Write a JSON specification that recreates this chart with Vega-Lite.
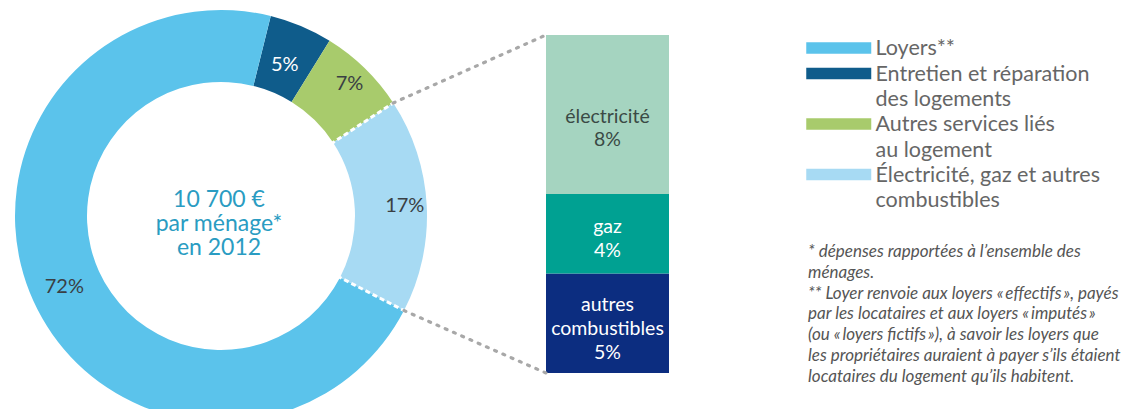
{
  "$schema": "https://vega.github.io/schema/vega-lite/v6.json",
  "width": 1125,
  "height": 409,
  "autosize": {"type": "none"},
  "padding": 0,
  "background": "white",
  "config": {
    "view": {"stroke": null},
    "font": "Lato",
    "style": {"guide-label": {"lineHeight": 25.5}}
  },
  "datasets": {
    "postes": [
      {"poste": "Entretien et réparation des logements", "part": 5, "ordre": 1, "etiquette": "5%"},
      {"poste": "Autres services liés au logement", "part": 7, "ordre": 2, "etiquette": "7%"},
      {"poste": "Électricité, gaz et autres combustibles", "part": 17, "ordre": 3, "etiquette": "17%"},
      {"poste": "Loyers", "part": 72, "ordre": 4, "etiquette": "72%"}
    ],
    "energie": [
      {"composante": "autres combustibles", "part": 5, "ordre": 1, "etiquette": "autres\ncombustibles\n5%"},
      {"composante": "gaz", "part": 4, "ordre": 2, "etiquette": "gaz\n4%"},
      {"composante": "électricité", "part": 8, "ordre": 3, "etiquette": "électricité\n8%"}
    ],
    "centre": [{"texte": "10 700 €\npar ménage*\nen 2012"}],
    "notes": [{"texte": "* dépenses rapportées à l’ensemble des\nménages.\n** Loyer renvoie aux loyers «\u2009effectifs\u2009», payés\npar les locataires et aux loyers «\u2009imputés\u2009»\n(ou «\u2009loyers fictifs\u2009»), à savoir les loyers que\nles propriétaires auraient à payer s’ils étaient\nlocataires du logement qu’ils habitent."}],
    "connecteurs": [
      {"x": 19.66, "y": 13.58, "x2": 27.3, "y2": 17},
      {"x": 20.2, "y": 3.14, "x2": 27.3, "y2": 0}
    ]
  },
  "layer": [
    {
      "data": {"name": "postes"},
      "mark": {"type": "arc", "outerRadius": 206, "innerRadius": 134, "clip": true},
      "encoding": {
        "x": {"datum": 11.05, "type": "quantitative", "scale": {"domain": [0, 56.25], "nice": false, "zero": false}, "axis": null},
        "y": {"datum": 7.9, "type": "quantitative", "scale": {"domain": [-1.81, 18.76], "nice": false, "zero": false}, "axis": null},
        "theta": {"field": "part", "type": "quantitative", "stack": true, "scale": {"range": [0.244, 6.527]}},
        "order": {"field": "ordre", "type": "quantitative"},
        "color": {
          "field": "poste",
          "type": "nominal",
          "scale": {
            "domain": ["Loyers", "Entretien et réparation des logements", "Autres services liés au logement", "Électricité, gaz et autres combustibles"],
            "range": ["#5BC3EB", "#0F5C8B", "#A8CB6C", "#A7DAF3"]
          },
          "legend": {
            "orient": "none",
            "legendX": 806,
            "legendY": 38.5,
            "title": null,
            "padding": 0,
            "symbolType": "M-6.5,-1.4H6.5V0.9H-6.5Z",
            "symbolSize": 100,
            "symbolOffset": 22,
            "symbolStrokeWidth": 0,
            "symbolOpacity": 1,
            "labelFont": "Lato",
            "labelFontSize": 21.5,
            "labelColor": "#666666",
            "labelBaseline": "middle",
            "labelOffset": 26,
            "labelLimit": 0,
            "rowPadding": 2.5,
            "labelExpr": "datum.label == 'Loyers' ? 'Loyers**' : datum.label == 'Entretien et réparation des logements' ? ['Entretien et réparation', 'des logements'] : datum.label == 'Autres services liés au logement' ? ['Autres services liés', 'au logement'] : ['Électricité, gaz et autres', 'combustibles']"
          }
        }
      }
    },
    {
      "data": {"name": "postes"},
      "mark": {"type": "arc", "outerRadius": 210, "innerRadius": 130, "clip": true, "fillOpacity": 0, "stroke": "white", "strokeWidth": 3, "strokeDash": [5, 3]},
      "encoding": {
        "x": {"datum": 11.05, "type": "quantitative"},
        "y": {"datum": 7.9, "type": "quantitative"},
        "theta": {"field": "part", "type": "quantitative", "stack": true},
        "order": {"field": "ordre", "type": "quantitative"},
        "detail": {"field": "poste"},
        "strokeOpacity": {"condition": {"test": "datum.poste === 'Électricité, gaz et autres combustibles'", "value": 1}, "value": 0}
      }
    },
    {
      "data": {"name": "postes"},
      "mark": {"type": "text", "radius": 164, "fontSize": 20, "font": "Lato", "align": "center", "baseline": "middle"},
      "encoding": {
        "x": {"datum": 11.05, "type": "quantitative"},
        "y": {"datum": 7.9, "type": "quantitative"},
        "theta": {"field": "part", "type": "quantitative", "stack": true},
        "order": {"field": "ordre", "type": "quantitative"},
        "detail": {"field": "poste"},
        "text": {"field": "etiquette"},
        "color": {"value": "#FFFFFF"},
        "opacity": {"condition": {"test": "datum.poste === 'Entretien et réparation des logements'", "value": 1}, "value": 0}
      }
    },
    {
      "data": {"name": "postes"},
      "mark": {"type": "text", "radius": 184, "fontSize": 20, "font": "Lato", "align": "center", "baseline": "middle"},
      "encoding": {
        "x": {"datum": 11.05, "type": "quantitative"},
        "y": {"datum": 7.9, "type": "quantitative"},
        "theta": {"field": "part", "type": "quantitative", "stack": true},
        "order": {"field": "ordre", "type": "quantitative"},
        "detail": {"field": "poste"},
        "text": {"field": "etiquette"},
        "color": {"value": "#3A3F44"},
        "opacity": {"condition": {"test": "datum.poste === 'Autres services liés au logement' || datum.poste === 'Électricité, gaz et autres combustibles'", "value": 1}, "value": 0}
      }
    },
    {
      "data": {"name": "postes"},
      "mark": {"type": "text", "radius": 172, "fontSize": 20, "font": "Lato", "align": "center", "baseline": "middle"},
      "encoding": {
        "x": {"datum": 11.05, "type": "quantitative"},
        "y": {"datum": 7.9, "type": "quantitative"},
        "theta": {"field": "part", "type": "quantitative", "stack": true},
        "order": {"field": "ordre", "type": "quantitative"},
        "detail": {"field": "poste"},
        "text": {"field": "etiquette"},
        "color": {"value": "#3A3F44"},
        "opacity": {"condition": {"test": "datum.poste === 'Loyers'", "value": 1}, "value": 0}
      }
    },
    {
      "data": {"name": "centre"},
      "mark": {"type": "text", "fontSize": 23, "lineHeight": 24, "lineBreak": "\n", "font": "Lato", "align": "center", "baseline": "middle", "color": "#2A9CC2"},
      "encoding": {
        "x": {"datum": 10.95, "type": "quantitative"},
        "y": {"datum": 8.72, "type": "quantitative"},
        "text": {"field": "texte"}
      }
    },
    {
      "data": {"name": "energie"},
      "transform": [
        {"stack": "part", "groupby": [], "sort": [{"field": "ordre", "order": "ascending"}], "as": ["y0", "y1"]}
      ],
      "mark": {"type": "rect"},
      "encoding": {
        "x": {"datum": 27.3, "type": "quantitative"},
        "x2": {"datum": 33.45},
        "y": {"field": "y0", "type": "quantitative"},
        "y2": {"field": "y1"},
        "color": {
          "field": "composante",
          "type": "nominal",
          "scale": {"domain": ["électricité", "gaz", "autres combustibles"], "range": ["#A5D4C0", "#00A192", "#0C2D80"]},
          "legend": null
        }
      }
    },
    {
      "data": {"name": "energie"},
      "transform": [
        {"stack": "part", "groupby": [], "sort": [{"field": "ordre", "order": "ascending"}], "as": ["y0", "y1"]},
        {"fold": ["y0", "y1"], "as": ["borne", "valeur"]},
        {"aggregate": [{"op": "mean", "field": "valeur", "as": "milieu"}], "groupby": ["composante", "etiquette"]},
        {"filter": "datum.composante === 'électricité'"}
      ],
      "mark": {"type": "text", "fontSize": 19.5, "lineHeight": 23.5, "lineBreak": "\n", "font": "Lato", "align": "center", "baseline": "middle", "dy": 2, "color": "#3A4A45"},
      "encoding": {
        "x": {"datum": 30.375, "type": "quantitative"},
        "y": {"field": "milieu", "type": "quantitative"},
        "text": {"field": "etiquette"}
      }
    },
    {
      "data": {"name": "energie"},
      "transform": [
        {"stack": "part", "groupby": [], "sort": [{"field": "ordre", "order": "ascending"}], "as": ["y0", "y1"]},
        {"fold": ["y0", "y1"], "as": ["borne", "valeur"]},
        {"aggregate": [{"op": "mean", "field": "valeur", "as": "milieu"}], "groupby": ["composante", "etiquette"]},
        {"filter": "datum.composante === 'gaz'"}
      ],
      "mark": {"type": "text", "fontSize": 19.5, "lineHeight": 23.5, "lineBreak": "\n", "font": "Lato", "align": "center", "baseline": "middle", "dy": -6.5, "color": "#FFFFFF"},
      "encoding": {
        "x": {"datum": 30.375, "type": "quantitative"},
        "y": {"field": "milieu", "type": "quantitative"},
        "text": {"field": "etiquette"}
      }
    },
    {
      "data": {"name": "energie"},
      "transform": [
        {"stack": "part", "groupby": [], "sort": [{"field": "ordre", "order": "ascending"}], "as": ["y0", "y1"]},
        {"fold": ["y0", "y1"], "as": ["borne", "valeur"]},
        {"aggregate": [{"op": "mean", "field": "valeur", "as": "milieu"}], "groupby": ["composante", "etiquette"]},
        {"filter": "datum.composante === 'autres combustibles'"}
      ],
      "mark": {"type": "text", "fontSize": 19.5, "lineHeight": 24, "lineBreak": "\n", "font": "Lato", "align": "center", "baseline": "middle", "dy": -18.5, "color": "#FFFFFF"},
      "encoding": {
        "x": {"datum": 30.375, "type": "quantitative"},
        "y": {"field": "milieu", "type": "quantitative"},
        "text": {"field": "etiquette"}
      }
    },
    {
      "data": {"name": "connecteurs"},
      "mark": {"type": "rule", "color": "#A8A8A8", "strokeWidth": 3.2, "strokeDash": [2, 7], "strokeCap": "round"},
      "encoding": {
        "x": {"field": "x", "type": "quantitative"},
        "y": {"field": "y", "type": "quantitative"},
        "x2": {"field": "x2"},
        "y2": {"field": "y2"}
      }
    },
    {
      "data": {"name": "notes"},
      "mark": {"type": "text", "fontSize": 17, "lineHeight": 20.8, "lineBreak": "\n", "font": "Lato", "fontStyle": "italic", "align": "left", "baseline": "middle", "color": "#555555"},
      "encoding": {
        "x": {"datum": 40.4, "type": "quantitative"},
        "y": {"datum": 6.09, "type": "quantitative"},
        "text": {"field": "texte"}
      }
    }
  ],
  "resolve": {"scale": {"color": "independent"}, "legend": {"color": "independent"}}
}
